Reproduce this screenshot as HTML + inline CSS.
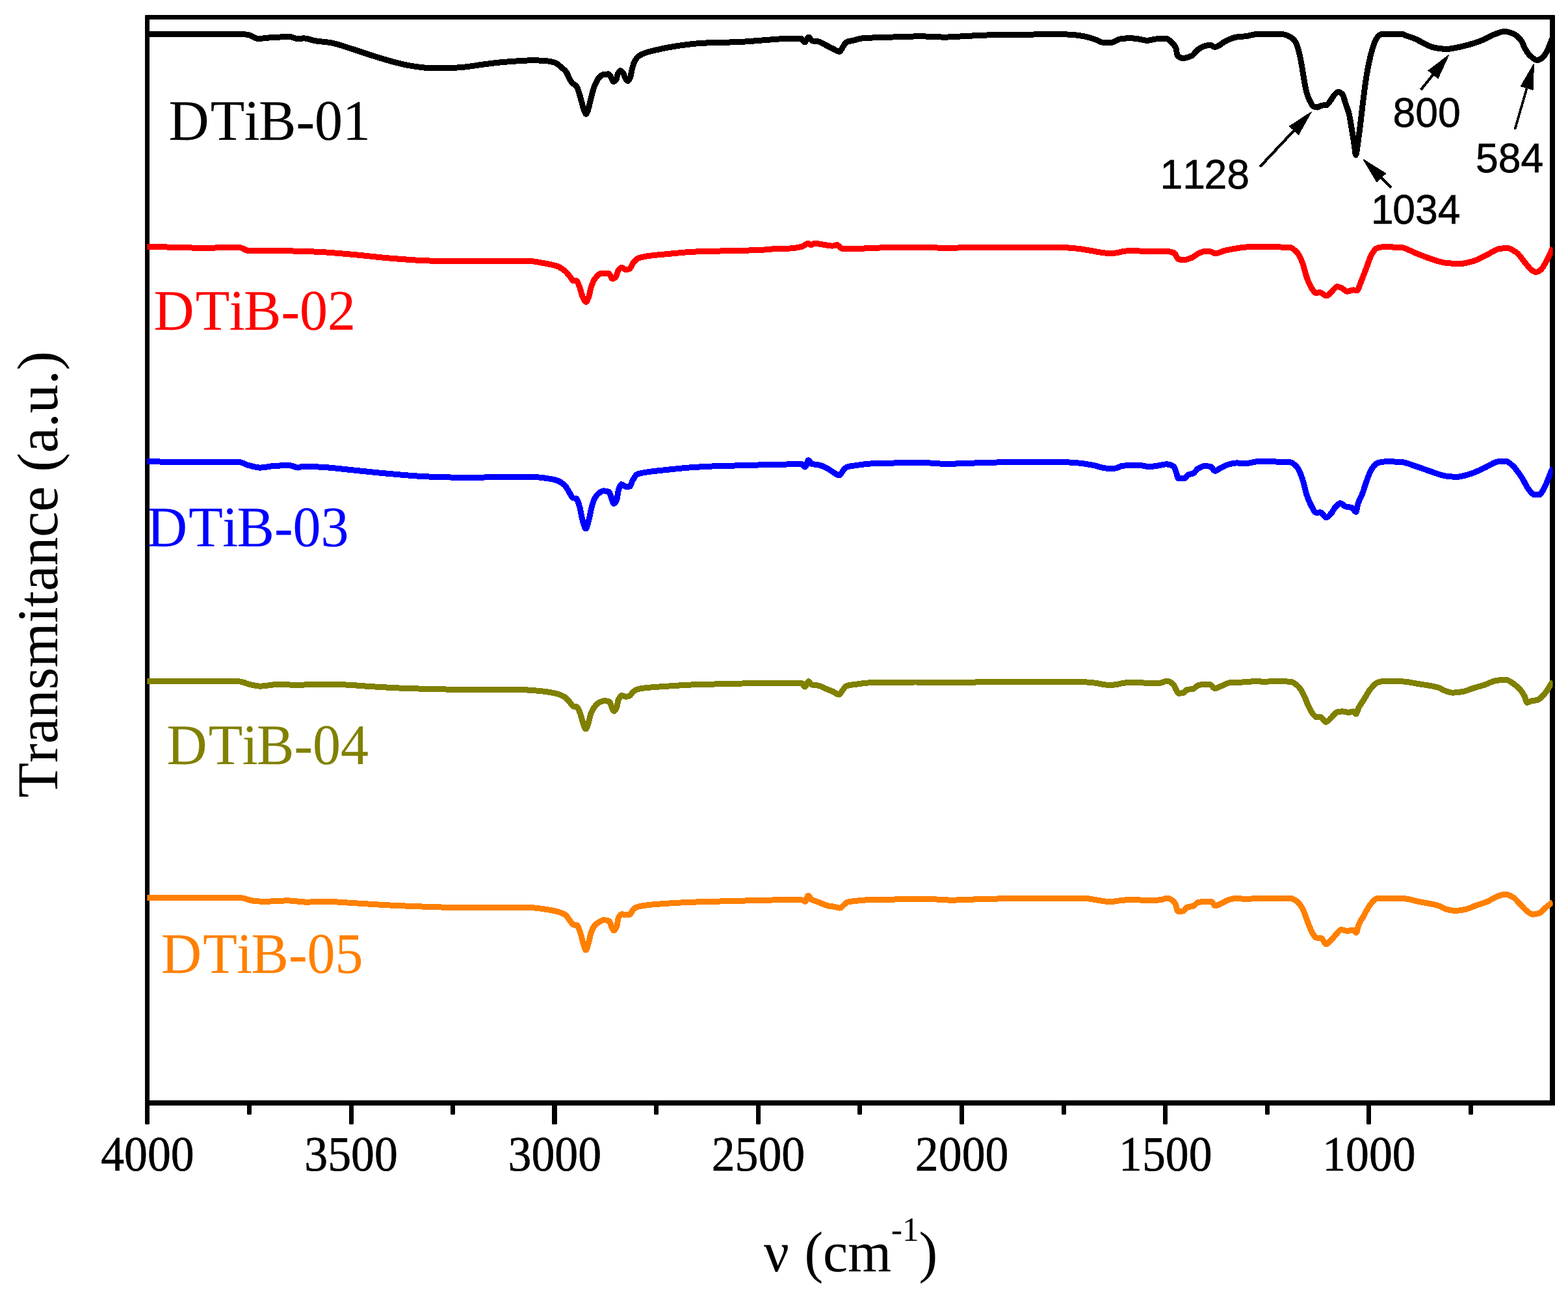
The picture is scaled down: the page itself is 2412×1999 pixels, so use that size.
<!DOCTYPE html>
<html lang="en"><head><meta charset="utf-8"><title>FTIR spectra DTiB-01 to DTiB-05</title>
<style>html,body{margin:0;padding:0;background:#fff;}body{width:2412px;height:1999px;overflow:hidden;}svg{display:block;}text{font-kerning:none;font-variant-ligatures:none;text-rendering:geometricPrecision;}</style></head><body>
<svg role="img" aria-label="FTIR transmittance spectra of DTiB-01, DTiB-02, DTiB-03, DTiB-04 and DTiB-05" width="2412" height="1999" viewBox="0 0 2412 1999">
<rect x="0" y="0" width="2412" height="1999" fill="#fff"/>
<g id="series-labels">
<text transform="translate(259.50 215.40) scale(1 1.025)" font-family="'Liberation Serif','DejaVu Serif',serif" font-size="86" fill="#000000" stroke="#000000" stroke-width="0.1" text-anchor="start" dx="0 2.2 -0.7 -1.5">DTiB-01</text>
<text transform="translate(236.50 506.50) scale(1 1.025)" font-family="'Liberation Serif','DejaVu Serif',serif" font-size="86" fill="#ff0000" stroke="#ff0000" stroke-width="0.1" text-anchor="start" dx="0 2.2 -0.7 -1.5">DTiB-02</text>
<text transform="translate(226.00 840.30) scale(1 1.025)" font-family="'Liberation Serif','DejaVu Serif',serif" font-size="86" fill="#0000ff" stroke="#0000ff" stroke-width="0.1" text-anchor="start" dx="0 2.2 -0.7 -1.5">DTiB-03</text>
<text transform="translate(256.50 1174.50) scale(1 1.025)" font-family="'Liberation Serif','DejaVu Serif',serif" font-size="86" fill="#808000" stroke="#808000" stroke-width="0.1" text-anchor="start" dx="0 2.2 -0.7 -1.5">DTiB-04</text>
<text transform="translate(248.00 1496.00) scale(1 1.025)" font-family="'Liberation Serif','DejaVu Serif',serif" font-size="86" fill="#ff8000" stroke="#ff8000" stroke-width="0.1" text-anchor="start" dx="0 2.2 -0.7 -1.5">DTiB-05</text>
</g>
<path id="frame" fill="#000" fill-rule="evenodd" d="M224 23H2391Q2392 23 2392 24V1699Q2392 1700 2391 1700H224Q223 1700 223 1699V24Q223 23 224 23ZM230 30V1692H2384V30Z"/>
<g id="ticks" fill="#000">
<path d="M223 1696V1728l1 1h5l1 -1V1696Z"/>
<path d="M537 1696V1728l1 1h5l1 -1V1696Z"/>
<path d="M849 1696V1728l1 1h6l1 -1V1696Z"/>
<path d="M1163 1696V1728l1 1h5l1 -1V1696Z"/>
<path d="M1476 1696V1728l1 1h5l1 -1V1696Z"/>
<path d="M1789 1696V1728l1 1h5l1 -1V1696Z"/>
<path d="M2102 1696V1728l1 1h5l1 -1V1696Z"/>
<path d="M380 1696V1713l1 1h5l1 -1V1696Z"/>
<path d="M693 1696V1713l1 1h5l1 -1V1696Z"/>
<path d="M1006 1696V1713l1 1h5l1 -1V1696Z"/>
<path d="M1319 1696V1713l1 1h5l1 -1V1696Z"/>
<path d="M1633 1696V1713l1 1h5l1 -1V1696Z"/>
<path d="M1946 1696V1713l1 1h5l1 -1V1696Z"/>
<path d="M2259 1696V1713l1 1h5l1 -1V1696Z"/>
</g>
<g id="tick-labels">
<text transform="translate(226.95 1799.70) scale(1 1.06)" font-family="'Liberation Serif','DejaVu Serif',serif" font-size="71.8" fill="#000" stroke="#000" stroke-width="0.6" text-anchor="middle">4000</text>
<text transform="translate(540.12 1799.70) scale(1 1.06)" font-family="'Liberation Serif','DejaVu Serif',serif" font-size="71.8" fill="#000" stroke="#000" stroke-width="0.6" text-anchor="middle">3500</text>
<text transform="translate(853.29 1799.70) scale(1 1.06)" font-family="'Liberation Serif','DejaVu Serif',serif" font-size="71.8" fill="#000" stroke="#000" stroke-width="0.6" text-anchor="middle">3000</text>
<text transform="translate(1166.46 1799.70) scale(1 1.06)" font-family="'Liberation Serif','DejaVu Serif',serif" font-size="71.8" fill="#000" stroke="#000" stroke-width="0.6" text-anchor="middle">2500</text>
<text transform="translate(1479.63 1799.70) scale(1 1.06)" font-family="'Liberation Serif','DejaVu Serif',serif" font-size="71.8" fill="#000" stroke="#000" stroke-width="0.6" text-anchor="middle">2000</text>
<text transform="translate(1792.80 1799.70) scale(1 1.06)" font-family="'Liberation Serif','DejaVu Serif',serif" font-size="71.8" fill="#000" stroke="#000" stroke-width="0.6" text-anchor="middle">1500</text>
<text transform="translate(2105.97 1799.70) scale(1 1.06)" font-family="'Liberation Serif','DejaVu Serif',serif" font-size="71.8" fill="#000" stroke="#000" stroke-width="0.6" text-anchor="middle">1000</text>
</g>
<g id="axis-titles">
<text transform="translate(1174.90 1954.90) scale(1 1.025)" font-family="'Liberation Serif','DejaVu Serif',serif" font-size="86" fill="#000" stroke="#000" stroke-width="0.1" text-anchor="start" dx="0 2.1" aria-label="ν (cm-1)">ν (cm<tspan font-size="51" dy="-45.5">-1</tspan><tspan dy="45.5">)</tspan></text>
<text transform="translate(88.30 1226.50) rotate(-90) scale(1 1.01)" font-family="'Liberation Serif','DejaVu Serif',serif" font-size="88" fill="#000" stroke="#000" stroke-width="0.1" text-anchor="start">Transmitance (a.u.)</text>
</g>
<clipPath id="plot-clip"><rect x="226.3" y="30" width="2162.3" height="1662"/></clipPath>
<g id="curves" clip-path="url(#plot-clip)" shape-rendering="crispEdges" fill="none" stroke-width="9" stroke-linejoin="round" stroke-linecap="butt">
<path id="curve-black" stroke="#000000" d="M226.5 52.6C236.7 52.6 246.8 52.6 257.0 52.6C276.0 52.6 295.0 52.0 314.0 52.0C329.3 52.0 344.7 52.1 360.0 52.3C366.7 52.4 373.3 52.6 380.0 53.1C385.7 53.5 391.3 59.4 397.0 59.4C403.7 59.4 410.3 58.1 417.0 57.7C426.7 57.2 436.3 56.6 446.0 56.6C450.2 56.6 454.4 60.0 458.6 60.0C461.4 60.0 464.2 58.9 467.0 58.9C473.2 58.9 479.5 61.9 485.7 62.9C493.3 64.1 501.0 64.4 508.6 65.7C520.0 67.6 531.5 72.2 542.9 75.7C552.4 78.6 561.9 82.1 571.4 85.1C580.9 88.1 590.5 91.1 600.0 93.7C609.5 96.3 619.1 99.0 628.6 100.6C638.1 102.2 647.5 104.0 657.0 104.3C666.6 104.6 676.1 104.9 685.7 104.9C695.1 104.9 704.6 103.9 714.0 103.1C723.6 102.3 733.3 100.3 742.9 99.1C752.4 97.9 761.9 96.6 771.4 95.7C780.6 94.9 789.8 94.2 799.0 93.7C805.4 93.3 811.7 92.8 818.1 92.8C824.4 92.8 830.8 93.0 837.1 93.3C842.8 93.6 848.6 94.7 854.3 96.6C857.5 97.6 860.6 101.2 863.8 103.8C866.0 105.7 868.3 107.1 870.5 109.9C872.1 111.9 873.6 116.1 875.2 119.0C876.8 122.0 878.4 125.9 880.0 127.6C882.2 129.9 884.5 129.8 886.7 132.4C888.0 133.9 889.2 138.2 890.5 141.9C891.8 145.6 893.0 150.8 894.3 155.2C895.6 159.6 896.8 165.4 898.1 168.6C899.2 171.5 900.4 175.3 901.5 175.3C902.6 175.3 903.7 171.6 904.8 168.6C905.7 166.0 906.7 160.9 907.6 157.1C908.9 152.0 910.1 146.2 911.4 141.9C912.7 137.6 913.9 133.4 915.2 130.5C917.1 126.1 919.1 122.2 921.0 120.0C923.2 117.5 925.4 115.1 927.6 114.7C930.5 114.2 933.3 113.9 936.2 113.9C937.5 113.9 938.7 117.1 940.0 119.0C941.3 120.9 942.5 125.7 943.8 125.7C945.1 125.7 946.3 124.5 947.6 122.9C948.6 121.7 949.5 115.1 950.5 113.3C951.8 111.0 953.0 108.6 954.3 108.6C955.9 108.6 957.4 111.1 959.0 113.3C960.3 115.1 961.6 120.3 962.9 121.9C963.8 123.1 964.8 124.4 965.7 124.4C967.0 124.4 968.2 121.8 969.5 119.0C970.5 116.9 971.4 109.2 972.4 105.7C973.7 101.1 974.9 96.7 976.2 94.3C978.1 90.7 980.0 88.2 981.9 86.7C985.7 83.8 989.5 82.3 993.3 81.0C998.4 79.3 1003.5 78.3 1008.6 77.1C1014.9 75.6 1021.3 74.2 1027.6 73.0C1034.0 71.8 1040.3 70.8 1046.7 69.9C1056.2 68.6 1065.7 67.3 1075.2 66.7C1084.7 66.0 1094.3 65.5 1103.8 65.3C1113.3 65.1 1122.9 65.1 1132.4 64.8C1141.9 64.5 1151.5 63.6 1161.0 62.9C1167.0 62.5 1173.0 61.9 1179.0 61.5C1188.5 60.8 1198.1 59.7 1207.6 59.6C1215.9 59.5 1224.1 59.4 1232.4 59.4C1234.3 59.4 1236.2 64.8 1238.1 64.8C1240.0 64.8 1241.9 57.1 1243.8 57.1C1245.7 57.1 1247.6 62.5 1249.5 62.9C1252.7 63.5 1255.8 63.3 1259.0 63.8C1262.8 64.4 1266.7 67.6 1270.5 69.5C1274.3 71.4 1278.1 73.4 1281.9 75.2C1285.1 76.7 1288.2 79.4 1291.4 79.4C1293.3 79.4 1295.2 74.0 1297.1 71.4C1298.7 69.2 1300.3 65.5 1301.9 64.8C1305.4 63.2 1308.9 63.1 1312.4 62.3C1316.8 61.2 1321.3 59.4 1325.7 59.0C1334.0 58.2 1342.2 58.0 1350.5 57.7C1363.2 57.2 1375.9 57.0 1388.6 56.6C1397.5 56.3 1406.3 55.8 1415.2 55.8C1427.9 55.8 1440.6 57.1 1453.3 57.1C1463.5 57.1 1473.6 56.1 1483.8 55.6C1496.5 55.0 1509.2 54.2 1521.9 53.9C1534.6 53.6 1547.3 53.5 1560.0 53.3C1562.9 53.2 1565.7 53.1 1568.6 53.1C1590.8 52.9 1613.0 52.8 1635.2 52.8C1641.6 52.8 1647.9 53.4 1654.3 53.9C1660.6 54.4 1667.0 55.7 1673.3 57.1C1677.8 58.1 1682.2 59.9 1686.7 61.5C1689.9 62.6 1693.0 65.3 1696.2 65.3C1700.6 65.3 1705.1 65.3 1709.5 65.3C1714.0 65.3 1718.4 60.6 1722.9 60.0C1728.0 59.3 1733.0 58.7 1738.1 58.7C1742.5 58.7 1747.0 59.4 1751.4 60.0C1755.9 60.6 1760.3 62.3 1764.8 62.3C1769.2 62.3 1773.7 60.4 1778.1 60.0C1783.2 59.5 1788.2 59.0 1793.3 59.0C1796.5 59.0 1799.7 62.7 1802.9 65.7C1804.8 67.5 1806.7 69.2 1808.6 73.3C1809.5 75.3 1810.5 84.8 1811.4 85.7C1814.3 88.4 1817.1 89.5 1820.0 89.5C1824.4 89.5 1828.9 87.7 1833.3 85.7C1836.5 84.2 1839.7 78.5 1842.9 76.2C1846.1 74.0 1849.2 71.9 1852.4 71.0C1855.6 70.1 1858.7 69.1 1861.9 69.1C1864.1 69.1 1866.4 72.4 1868.6 72.4C1870.8 72.4 1873.0 71.0 1875.2 69.9C1878.4 68.4 1881.6 65.0 1884.8 63.4C1890.5 60.6 1896.2 58.0 1901.9 57.1C1907.0 56.3 1912.0 56.3 1917.1 55.6C1921.9 55.0 1926.7 52.8 1931.5 52.8C1945.4 52.8 1959.3 52.8 1973.2 52.8C1976.5 52.8 1979.9 54.4 1983.2 55.9C1986.1 57.2 1988.9 59.4 1991.8 63.1C1993.7 65.6 1995.7 71.1 1997.6 77.5C1999.0 82.2 2000.5 90.1 2001.9 97.6C2003.3 105.1 2004.8 115.4 2006.2 123.4C2007.4 130.1 2008.6 137.9 2009.8 142.1C2011.5 148.0 2013.1 151.9 2014.8 155.1C2016.7 158.8 2018.7 162.9 2020.6 163.7C2022.5 164.5 2024.4 165.1 2026.3 165.1C2028.7 165.1 2031.1 162.6 2033.5 162.2C2035.9 161.8 2038.3 161.9 2040.7 161.5C2042.6 161.1 2044.5 157.5 2046.4 155.1C2048.3 152.6 2050.3 148.4 2052.2 146.4C2054.3 144.2 2056.5 141.4 2058.6 141.4C2060.8 141.4 2062.9 142.9 2065.1 145.0C2066.5 146.4 2068.0 153.6 2069.4 157.9C2071.3 163.7 2073.3 167.5 2075.2 175.2C2076.6 180.9 2078.1 191.1 2079.5 199.6C2080.7 206.5 2081.8 213.6 2083.0 221.1C2083.9 226.6 2084.7 238.4 2085.6 238.4C2086.6 238.4 2087.6 227.6 2088.6 221.1C2089.9 212.9 2091.1 202.4 2092.4 192.4C2093.8 181.0 2095.3 168.0 2096.7 156.5C2098.1 145.0 2099.6 132.8 2101.0 123.4C2102.4 114.0 2103.9 106.0 2105.3 99.0C2106.8 91.9 2108.2 85.5 2109.7 80.3C2111.6 73.5 2113.5 66.9 2115.4 63.1C2117.3 59.3 2119.2 55.7 2121.1 54.5C2123.0 53.3 2125.0 52.3 2126.9 52.3C2136.9 52.3 2147.0 52.3 2157.0 52.3C2158.7 52.3 2160.3 53.8 2162.0 54.5C2166.8 56.4 2171.6 57.5 2176.4 59.5C2181.2 61.5 2185.9 64.5 2190.7 66.7C2195.5 68.9 2200.3 72.1 2205.1 73.0C2211.8 74.3 2218.5 75.4 2225.2 75.4C2232.9 75.4 2240.5 73.2 2248.2 71.6C2257.8 69.6 2267.3 66.6 2276.9 63.1C2284.1 60.5 2291.3 55.6 2298.5 53.0C2303.8 51.1 2309.0 48.4 2314.3 48.4C2318.6 48.4 2322.9 49.9 2327.2 51.6C2331.6 53.3 2336.1 57.3 2340.5 63.1C2342.3 65.4 2344.0 71.6 2345.8 74.6C2348.5 79.3 2351.3 83.4 2354.0 85.8C2357.6 89.0 2361.2 92.6 2364.8 92.6C2367.5 92.6 2370.3 90.6 2373.0 88.5C2375.4 86.7 2377.8 82.0 2380.2 77.5C2382.0 74.1 2383.9 68.9 2385.7 64.5C2386.7 62.2 2387.6 59.8 2388.6 57.5"/>
<path id="curve-red" stroke="#ff0000" d="M226.3 379.4C246.1 379.8 265.9 380.1 285.7 380.6C295.2 380.9 304.8 381.7 314.3 381.7C323.8 381.7 333.4 380.6 342.9 380.6C351.5 380.6 360.0 380.6 368.6 380.6C373.4 380.6 378.1 385.7 382.9 385.7C398.1 385.7 413.4 385.7 428.6 385.7C447.6 385.7 466.7 386.4 485.7 387.1C504.8 387.8 523.8 389.8 542.9 391.4C561.9 393.0 581.0 395.6 600.0 397.1C619.0 398.6 638.1 400.3 657.1 400.9C676.2 401.5 695.2 402.0 714.3 402.0C733.3 402.0 752.4 401.4 771.4 401.4C785.7 401.4 800.0 401.4 814.3 401.5C821.9 401.5 829.5 403.5 837.1 404.8C843.5 405.9 849.8 406.9 856.2 409.0C860.6 410.5 865.1 413.5 869.5 417.1C872.0 419.2 874.6 422.7 877.1 425.7C878.7 427.6 880.3 431.8 881.9 431.8C883.5 431.8 885.1 431.8 886.7 431.8C888.3 431.8 889.8 437.2 891.4 441.0C893.0 444.9 894.6 452.9 896.2 456.2C898.0 459.8 899.7 464.2 901.5 464.2C902.9 464.2 904.3 459.8 905.7 456.2C907.0 452.9 908.2 444.6 909.5 441.0C911.4 435.5 913.3 431.0 915.2 428.6C918.4 424.5 921.6 420.4 924.8 420.4C928.6 420.4 932.4 420.4 936.2 420.4C938.1 420.4 940.0 428.6 941.9 428.6C943.5 428.6 945.1 427.8 946.7 426.7C948.3 425.6 949.8 417.1 951.4 415.2C953.0 413.3 954.6 411.4 956.2 411.4C958.4 411.4 960.7 414.9 962.9 414.9C964.8 414.9 966.7 414.2 968.6 413.3C970.5 412.4 972.4 406.0 974.3 403.8C976.8 400.8 979.4 398.1 981.9 397.1C986.3 395.3 990.8 394.6 995.2 393.9C1006.0 392.2 1016.8 391.5 1027.6 390.5C1040.3 389.3 1053.0 387.8 1065.7 387.2C1078.4 386.6 1091.1 386.4 1103.8 386.1C1116.5 385.8 1129.2 385.6 1141.9 385.3C1154.6 385.0 1167.3 384.6 1180.0 383.8C1182.9 383.6 1185.7 383.1 1188.6 382.9C1198.1 382.4 1207.6 382.5 1217.1 381.9C1222.8 381.5 1228.6 380.6 1234.3 379.0C1237.2 378.2 1240.0 374.3 1242.9 374.3C1244.5 374.3 1246.0 376.6 1247.6 376.6C1249.5 376.6 1251.4 374.3 1253.3 374.3C1257.8 374.3 1262.2 375.6 1266.7 376.2C1271.1 376.8 1275.6 378.1 1280.0 378.1C1282.5 378.1 1285.1 376.6 1287.6 376.6C1290.1 376.6 1292.7 382.1 1295.2 382.3C1300.9 382.7 1306.7 382.9 1312.4 382.9C1318.7 382.9 1325.1 382.2 1331.4 381.9C1344.1 381.4 1356.8 380.7 1369.5 380.6C1391.7 380.5 1414.0 380.4 1436.2 380.4C1439.4 380.4 1442.5 381.3 1445.7 381.3C1455.2 381.3 1464.8 381.2 1474.3 381.0C1477.5 380.9 1480.6 380.0 1483.8 380.0C1509.2 380.0 1534.6 380.1 1560.0 380.2C1583.8 380.3 1607.6 380.3 1631.4 380.4C1640.3 380.5 1649.2 381.4 1658.1 382.3C1666.4 383.1 1674.6 385.0 1682.9 386.3C1689.2 387.3 1695.6 389.1 1701.9 389.1C1706.3 389.1 1710.8 389.1 1715.2 389.1C1719.0 389.1 1722.9 387.2 1726.7 386.7C1731.8 386.0 1736.8 385.3 1741.9 385.3C1750.2 385.3 1758.4 387.0 1766.7 387.0C1770.5 387.0 1774.3 386.7 1778.1 386.7C1784.4 386.7 1790.8 386.7 1797.1 386.7C1800.3 386.7 1803.5 387.8 1806.7 389.5C1808.6 390.5 1810.5 397.3 1812.4 398.1C1814.9 399.2 1817.5 400.0 1820.0 400.0C1824.4 400.0 1828.9 397.9 1833.3 396.2C1837.0 394.8 1840.6 391.0 1844.3 389.5C1847.6 388.1 1851.0 386.3 1854.3 386.3C1856.8 386.3 1859.4 386.5 1861.9 386.7C1864.4 386.9 1867.0 389.9 1869.5 389.9C1874.0 389.9 1878.4 386.8 1882.9 385.7C1889.2 384.1 1895.6 382.9 1901.9 381.9C1907.0 381.1 1912.0 380.1 1917.1 380.0C1925.9 379.9 1934.6 379.8 1943.4 379.8C1956.7 379.8 1970.0 379.9 1983.3 380.3C1987.2 380.4 1991.1 384.1 1995.0 388.0C1997.7 390.7 2000.5 396.7 2003.2 403.3C2005.5 408.9 2007.9 420.6 2010.2 426.7C2012.9 433.9 2015.7 440.5 2018.4 444.3C2020.4 447.1 2022.3 450.6 2024.3 450.6C2026.2 450.6 2028.2 449.7 2030.1 449.7C2033.6 449.7 2037.2 454.8 2040.7 454.8C2043.4 454.8 2046.2 450.1 2048.9 447.8C2051.6 445.5 2054.4 440.7 2057.1 440.7C2059.4 440.7 2061.8 442.1 2064.1 443.1C2066.8 444.3 2069.6 448.2 2072.3 448.2C2075.4 448.2 2078.6 445.9 2081.7 445.9C2083.6 445.9 2085.6 446.6 2087.5 446.6C2089.5 446.6 2091.4 438.3 2093.4 433.7C2096.1 427.3 2098.9 419.6 2101.6 412.6C2104.3 405.6 2107.1 396.2 2109.8 391.5C2112.1 387.4 2114.5 383.2 2116.8 382.2C2119.9 380.8 2123.1 379.8 2126.2 379.8C2135.6 379.8 2144.9 380.0 2154.3 380.3C2162.1 380.6 2169.9 386.2 2177.7 389.2C2185.5 392.2 2193.4 395.6 2201.2 398.1C2209.0 400.6 2216.8 403.7 2224.6 404.4C2231.6 405.1 2238.7 405.6 2245.7 405.6C2252.7 405.6 2259.8 403.4 2266.8 401.4C2273.8 399.4 2280.9 394.8 2287.9 391.5C2294.1 388.6 2300.4 383.5 2306.6 382.6C2310.5 382.0 2314.4 381.5 2318.3 381.5C2323.0 381.5 2327.7 384.9 2332.4 388.0C2337.1 391.1 2341.7 399.0 2346.4 404.4C2349.5 408.0 2352.7 412.9 2355.8 415.0C2358.1 416.6 2360.5 418.5 2362.8 418.5C2365.2 418.5 2367.5 416.7 2369.9 415.0C2373.0 412.7 2376.1 406.4 2379.2 400.9C2382.3 395.4 2385.5 387.6 2388.6 381.0"/>
<path id="curve-blue" stroke="#0000ff" d="M226.3 709.4C246.1 709.9 265.9 710.9 285.7 710.9C312.4 710.9 339.0 710.0 365.7 710.0C371.4 710.0 377.2 714.3 382.9 715.7C388.6 717.1 394.3 719.1 400.0 719.1C407.6 719.1 415.3 716.6 422.9 716.3C430.5 716.0 438.1 715.7 445.7 715.7C450.0 715.7 454.3 719.1 458.6 719.1C461.0 719.1 463.3 717.1 465.7 717.1C477.1 717.1 488.6 717.9 500.0 718.6C514.3 719.5 528.6 721.5 542.9 722.9C561.9 724.8 581.0 727.0 600.0 728.6C619.0 730.2 638.1 732.2 657.1 732.9C676.2 733.6 695.2 734.3 714.3 734.3C733.3 734.3 752.4 733.8 771.4 733.7C788.2 733.6 805.1 733.6 821.9 733.6C828.9 733.6 835.9 734.8 842.9 735.8C847.3 736.4 851.8 737.2 856.2 738.6C860.3 739.9 864.5 742.5 868.6 746.2C871.4 748.8 874.3 755.1 877.1 759.5C878.4 761.5 879.7 765.1 881.0 765.6C882.9 766.3 884.8 766.0 886.7 766.8C888.3 767.4 889.8 773.6 891.4 778.6C893.0 783.7 894.6 794.6 896.2 800.0C897.8 805.4 899.4 813.0 901.0 813.0C902.6 813.0 904.1 805.5 905.7 800.0C907.0 795.6 908.2 787.2 909.5 782.4C911.1 776.3 912.7 770.1 914.3 767.1C916.5 762.9 918.8 760.2 921.0 758.6C923.5 756.8 926.1 754.8 928.6 754.8C931.4 754.8 934.3 755.4 937.1 756.7C938.4 757.3 939.7 763.9 941.0 767.1C942.1 769.7 943.1 774.4 944.2 774.4C945.7 774.4 947.1 772.1 948.6 769.0C949.5 767.0 950.5 756.5 951.4 753.8C953.0 749.1 954.6 744.7 956.2 744.7C958.4 744.7 960.7 748.5 962.9 748.5C964.8 748.5 966.7 748.4 968.6 748.1C970.2 747.9 971.7 741.2 973.3 738.6C975.5 734.9 977.8 730.4 980.0 729.4C984.4 727.5 988.9 727.0 993.3 726.3C1004.7 724.4 1016.2 723.4 1027.6 722.2C1040.3 720.9 1053.0 719.4 1065.7 718.6C1078.4 717.8 1091.1 717.1 1103.8 716.7C1116.5 716.3 1129.2 716.0 1141.9 715.7C1154.6 715.4 1167.3 714.9 1180.0 714.6C1186.0 714.5 1192.1 714.3 1198.1 714.2C1209.8 714.0 1221.6 713.8 1233.3 713.8C1235.0 713.8 1236.8 718.0 1238.5 718.0C1240.3 718.0 1242.0 707.7 1243.8 707.7C1245.4 707.7 1247.0 713.0 1248.6 713.4C1252.1 714.3 1255.5 714.1 1259.0 714.8C1262.8 715.6 1266.7 717.3 1270.5 719.1C1274.3 720.9 1278.1 724.1 1281.9 726.2C1285.1 728.0 1288.2 731.0 1291.4 731.0C1293.3 731.0 1295.2 725.4 1297.1 723.3C1298.7 721.5 1300.3 719.2 1301.9 718.6C1306.7 716.8 1311.4 716.4 1316.2 715.7C1324.5 714.5 1332.7 713.2 1341.0 712.9C1356.9 712.3 1372.7 711.9 1388.6 711.9C1401.3 711.9 1414.0 711.9 1426.7 711.9C1436.2 711.9 1445.7 713.4 1455.2 713.4C1464.7 713.4 1474.3 712.8 1483.8 712.5C1496.5 712.1 1509.2 711.6 1521.9 711.3C1534.6 711.0 1547.3 710.5 1560.0 710.5C1583.8 710.5 1607.6 710.5 1631.4 710.6C1640.3 710.6 1649.2 711.2 1658.1 711.9C1666.4 712.5 1674.6 714.2 1682.9 715.7C1689.2 716.9 1695.6 720.1 1701.9 720.1C1706.3 720.1 1710.8 720.1 1715.2 720.1C1719.0 720.1 1722.9 716.7 1726.7 716.3C1731.8 715.7 1736.8 715.3 1741.9 715.3C1746.3 715.3 1750.8 715.5 1755.2 715.7C1759.0 715.9 1762.9 717.6 1766.7 717.6C1771.1 717.6 1775.6 716.9 1780.0 716.3C1784.8 715.7 1789.5 713.8 1794.3 713.8C1798.1 713.8 1801.9 715.0 1805.7 717.6C1807.0 718.5 1808.2 723.7 1809.5 727.1C1810.5 729.7 1811.4 735.7 1812.4 735.7C1815.6 735.7 1818.7 735.7 1821.9 735.7C1823.8 735.7 1825.7 730.8 1827.6 730.0C1830.1 729.0 1832.7 729.1 1835.2 728.1C1837.8 727.1 1840.3 722.0 1842.9 720.5C1846.1 718.7 1849.2 716.7 1852.4 716.7C1855.6 716.7 1858.7 716.9 1861.9 717.2C1864.3 717.5 1866.7 724.3 1869.1 724.3C1871.8 724.3 1874.4 721.2 1877.1 719.9C1882.2 717.4 1887.3 714.5 1892.4 713.4C1895.6 712.7 1898.7 711.9 1901.9 711.9C1906.3 711.9 1910.8 712.9 1915.2 712.9C1921.5 712.9 1927.8 709.8 1934.1 709.8C1950.5 709.8 1966.9 709.9 1983.3 710.5C1987.2 710.6 1991.1 714.0 1995.0 718.0C1997.7 720.8 2000.5 728.1 2003.2 735.6C2005.5 742.0 2007.9 754.8 2010.2 761.4C2012.9 769.1 2015.7 775.4 2018.4 780.1C2020.4 783.5 2022.3 788.3 2024.3 788.3C2026.6 788.3 2029.0 787.9 2031.3 787.9C2034.2 787.9 2037.1 795.8 2040.0 795.8C2042.6 795.8 2045.1 792.2 2047.7 789.5C2050.0 787.0 2052.4 781.3 2054.7 779.0C2057.1 776.7 2059.4 773.8 2061.8 773.8C2064.5 773.8 2067.3 778.3 2070.0 779.0C2073.1 779.8 2076.2 779.7 2079.3 780.6C2081.5 781.3 2083.7 787.2 2085.9 787.2C2086.8 787.2 2087.8 778.3 2088.7 775.4C2091.0 768.1 2093.4 765.1 2095.7 759.0C2098.1 752.8 2100.4 744.1 2102.8 737.9C2105.1 731.8 2107.5 724.9 2109.8 721.5C2112.9 716.9 2116.1 712.6 2119.2 711.7C2123.1 710.6 2127.0 709.8 2130.9 709.8C2138.7 709.8 2146.5 710.0 2154.3 710.3C2162.1 710.6 2169.9 714.5 2177.7 716.9C2185.5 719.3 2193.4 722.6 2201.2 725.1C2209.0 727.6 2216.8 731.2 2224.6 732.1C2230.1 732.7 2235.5 733.3 2241.0 733.3C2248.0 733.3 2255.1 730.7 2262.1 728.6C2269.9 726.3 2277.7 722.0 2285.5 718.5C2291.7 715.7 2298.0 710.4 2304.2 709.8C2308.1 709.4 2312.1 709.1 2316.0 709.1C2319.9 709.1 2323.8 713.5 2327.7 716.9C2332.4 721.0 2337.0 728.5 2341.7 735.6C2344.8 740.4 2348.0 748.2 2351.1 752.0C2354.2 755.8 2357.4 760.9 2360.5 760.9C2362.8 760.9 2365.2 760.9 2367.5 760.9C2370.2 760.9 2373.0 754.4 2375.7 749.7C2378.0 745.6 2380.4 738.8 2382.7 733.3C2384.7 728.6 2386.6 723.9 2388.6 719.2"/>
<path id="curve-olive" stroke="#808000" d="M226.3 1048.0C265.2 1047.9 304.0 1047.7 342.9 1047.7C351.5 1047.7 360.0 1047.8 368.6 1048.0C374.3 1048.1 380.0 1051.8 385.7 1052.9C390.5 1053.8 395.2 1055.1 400.0 1055.1C409.5 1055.1 419.1 1052.3 428.6 1052.3C438.1 1052.3 447.6 1053.4 457.1 1053.4C466.6 1053.4 476.2 1052.3 485.7 1052.3C500.0 1052.3 514.3 1052.6 528.6 1052.9C542.9 1053.2 557.1 1054.9 571.4 1055.7C590.5 1056.8 609.5 1058.0 628.6 1058.6C647.6 1059.2 666.7 1059.6 685.7 1060.0C704.8 1060.4 723.8 1060.8 742.9 1060.9C755.3 1061.0 767.6 1061.0 780.0 1061.0C788.9 1061.0 797.8 1060.9 806.7 1060.9C815.6 1060.9 824.4 1061.9 833.3 1062.8C840.9 1063.6 848.6 1064.7 856.2 1066.6C860.6 1067.7 865.1 1069.6 869.5 1072.5C872.0 1074.1 874.6 1077.7 877.1 1080.5C878.7 1082.3 880.3 1085.7 881.9 1086.2C883.8 1086.7 885.7 1086.5 887.6 1087.1C889.2 1087.6 890.8 1092.6 892.4 1096.7C893.8 1100.2 895.2 1107.2 896.6 1111.0C898.1 1115.0 899.5 1120.9 901.0 1120.9C902.4 1120.9 903.9 1115.0 905.3 1111.0C906.7 1107.0 908.1 1099.0 909.5 1095.7C911.4 1091.3 913.3 1088.4 915.2 1086.2C917.8 1083.2 920.3 1080.5 922.9 1079.5C925.4 1078.5 928.0 1077.6 930.5 1077.6C933.0 1077.6 935.6 1078.2 938.1 1079.5C939.4 1080.1 940.6 1088.0 941.9 1090.0C942.9 1091.6 943.8 1093.4 944.8 1093.4C946.1 1093.4 947.3 1090.9 948.6 1088.1C949.5 1086.1 950.5 1077.6 951.4 1075.7C953.0 1072.4 954.6 1069.6 956.2 1069.6C958.4 1069.6 960.7 1071.3 962.9 1071.3C964.8 1071.3 966.7 1070.7 968.6 1070.0C970.5 1069.3 972.4 1064.7 974.3 1063.3C976.8 1061.5 979.4 1060.1 981.9 1059.5C987.6 1058.2 993.3 1057.8 999.0 1057.2C1008.5 1056.3 1018.1 1055.7 1027.6 1055.1C1040.3 1054.3 1053.0 1053.4 1065.7 1052.9C1078.4 1052.4 1091.1 1052.2 1103.8 1051.9C1116.5 1051.6 1129.2 1051.3 1141.9 1051.0C1154.6 1050.7 1167.3 1050.5 1180.0 1050.3C1186.0 1050.2 1192.1 1050.0 1198.1 1050.0C1209.5 1050.0 1221.0 1050.0 1232.4 1050.0C1234.4 1050.0 1236.5 1056.1 1238.5 1056.1C1240.3 1056.1 1242.0 1047.7 1243.8 1047.7C1245.4 1047.7 1247.0 1052.5 1248.6 1052.9C1252.1 1053.8 1255.5 1053.5 1259.0 1054.2C1262.8 1054.9 1266.7 1057.5 1270.5 1059.1C1274.3 1060.7 1278.1 1062.0 1281.9 1063.7C1284.8 1065.0 1287.6 1068.1 1290.5 1068.1C1292.4 1068.1 1294.3 1063.6 1296.2 1061.4C1298.1 1059.2 1300.0 1055.4 1301.9 1054.8C1306.7 1053.2 1311.4 1053.0 1316.2 1052.3C1324.5 1051.2 1332.7 1049.8 1341.0 1049.6C1363.2 1049.2 1385.4 1049.0 1407.6 1049.0C1426.7 1049.0 1445.7 1049.4 1464.8 1049.4C1483.8 1049.4 1502.9 1048.9 1521.9 1048.7C1540.6 1048.5 1559.4 1048.1 1578.1 1048.1C1603.5 1048.1 1628.9 1048.1 1654.3 1048.1C1663.8 1048.1 1673.4 1049.1 1682.9 1050.0C1690.5 1050.7 1698.1 1053.4 1705.7 1053.4C1708.9 1053.4 1712.0 1053.1 1715.2 1052.9C1720.3 1052.5 1725.4 1050.3 1730.5 1050.0C1736.8 1049.6 1743.2 1049.4 1749.5 1049.4C1755.9 1049.4 1762.2 1050.6 1768.6 1050.6C1774.3 1050.6 1780.0 1050.4 1785.7 1050.0C1788.9 1049.8 1792.0 1047.1 1795.2 1047.1C1798.4 1047.1 1801.6 1049.4 1804.8 1052.3C1806.4 1053.7 1807.9 1059.0 1809.5 1061.4C1810.8 1063.3 1812.0 1066.2 1813.3 1066.2C1815.9 1066.2 1818.4 1065.8 1821.0 1065.2C1822.6 1064.8 1824.1 1060.8 1825.7 1060.5C1828.9 1059.8 1832.0 1060.1 1835.2 1059.5C1837.8 1059.0 1840.3 1054.5 1842.9 1053.8C1846.1 1053.0 1849.2 1052.3 1852.4 1052.3C1855.6 1052.3 1858.7 1052.5 1861.9 1052.9C1864.1 1053.2 1866.4 1058.6 1868.6 1058.6C1872.1 1058.6 1875.5 1056.1 1879.0 1054.8C1883.5 1053.1 1887.9 1049.9 1892.4 1049.6C1898.7 1049.2 1905.1 1049.3 1911.4 1049.0C1919.0 1048.7 1926.5 1047.5 1934.1 1047.5C1938.0 1047.5 1941.9 1048.7 1945.8 1048.7C1948.9 1048.7 1952.0 1047.5 1955.1 1047.5C1965.3 1047.5 1975.4 1047.7 1985.6 1048.2C1989.5 1048.4 1993.4 1052.1 1997.3 1055.7C2000.0 1058.3 2002.8 1063.4 2005.5 1068.6C2007.8 1073.0 2010.2 1080.2 2012.5 1085.0C2014.9 1089.8 2017.2 1095.1 2019.6 1097.9C2021.5 1100.2 2023.5 1103.0 2025.4 1103.0C2027.4 1103.0 2029.3 1102.5 2031.3 1102.5C2034.0 1102.5 2036.8 1110.3 2039.5 1110.3C2042.2 1110.3 2045.0 1106.1 2047.7 1103.7C2050.8 1101.0 2054.0 1095.4 2057.1 1094.8C2059.8 1094.3 2062.6 1093.9 2065.3 1093.9C2068.4 1093.9 2071.5 1095.5 2074.6 1095.5C2077.0 1095.5 2079.3 1093.9 2081.7 1093.9C2083.1 1093.9 2084.5 1097.9 2085.9 1097.9C2087.2 1097.9 2088.6 1091.1 2089.9 1088.5C2092.6 1083.2 2095.4 1080.0 2098.1 1075.6C2101.2 1070.6 2104.3 1064.1 2107.4 1060.4C2111.3 1055.7 2115.3 1050.7 2119.2 1049.4C2123.1 1048.1 2127.0 1047.0 2130.9 1047.0C2140.3 1047.0 2149.6 1047.4 2159.0 1048.0C2166.8 1048.5 2174.6 1050.4 2182.4 1051.7C2192.6 1053.4 2202.7 1054.3 2212.9 1057.3C2216.0 1058.2 2219.2 1060.9 2222.3 1062.0C2226.2 1063.4 2230.1 1065.1 2234.0 1065.1C2239.5 1065.1 2244.9 1064.3 2250.4 1063.4C2255.9 1062.5 2261.3 1059.7 2266.8 1058.0C2272.3 1056.3 2277.7 1055.1 2283.2 1053.3C2288.7 1051.5 2294.1 1048.0 2299.6 1047.0C2305.1 1046.0 2310.5 1045.1 2316.0 1045.1C2319.9 1045.1 2323.8 1048.5 2327.7 1051.0C2331.6 1053.5 2335.5 1056.9 2339.4 1061.5C2341.4 1063.8 2343.3 1066.9 2345.3 1070.9C2346.5 1073.3 2347.6 1080.3 2348.8 1080.3C2351.1 1080.3 2353.5 1078.6 2355.8 1078.0C2358.9 1077.3 2362.1 1077.2 2365.2 1076.3C2368.3 1075.4 2371.5 1071.9 2374.6 1068.6C2377.3 1065.7 2380.1 1061.1 2382.8 1056.9C2384.7 1054.0 2386.7 1050.6 2388.6 1047.5"/>
<path id="curve-orange" stroke="#ff8000" d="M226.3 1380.9C265.2 1380.8 304.0 1380.6 342.9 1380.6C352.4 1380.6 361.9 1380.7 371.4 1380.9C377.1 1381.0 382.9 1384.5 388.6 1385.1C394.3 1385.7 400.0 1386.3 405.7 1386.3C418.1 1386.3 430.5 1384.9 442.9 1384.9C452.4 1384.9 461.9 1387.1 471.4 1387.1C480.9 1387.1 490.5 1386.3 500.0 1386.3C514.3 1386.3 528.6 1387.8 542.9 1388.6C561.9 1389.7 581.0 1391.1 600.0 1392.0C619.0 1392.9 638.1 1393.7 657.1 1394.3C676.2 1394.9 695.2 1395.7 714.3 1395.7C736.2 1395.7 758.1 1395.6 780.0 1395.6C792.7 1395.6 805.4 1395.7 818.1 1395.8C825.7 1395.9 833.4 1397.4 841.0 1398.5C846.7 1399.4 852.4 1400.3 858.1 1401.9C861.9 1403.0 865.7 1404.2 869.5 1406.7C872.0 1408.4 874.6 1413.1 877.1 1416.2C878.7 1418.1 880.3 1421.4 881.9 1421.9C883.8 1422.5 885.7 1422.3 887.6 1422.9C889.2 1423.4 890.8 1428.9 892.4 1433.3C893.8 1437.1 895.2 1444.3 896.6 1448.6C898.2 1453.4 899.7 1461.0 901.3 1461.0C902.8 1461.0 904.2 1453.5 905.7 1448.6C907.0 1444.4 908.2 1436.7 909.5 1433.3C911.1 1429.0 912.7 1425.7 914.3 1423.8C916.5 1421.1 918.8 1419.4 921.0 1418.1C923.5 1416.6 926.1 1414.7 928.6 1414.7C931.4 1414.7 934.3 1415.2 937.1 1416.2C938.4 1416.7 939.7 1423.2 941.0 1425.7C942.1 1427.8 943.1 1431.0 944.2 1431.0C945.7 1431.0 947.1 1428.1 948.6 1424.8C949.5 1422.7 950.5 1413.3 951.4 1411.4C953.0 1408.2 954.6 1405.7 956.2 1405.7C958.4 1405.7 960.7 1407.0 962.9 1407.0C964.8 1407.0 966.7 1406.7 968.6 1406.3C970.5 1405.9 972.4 1399.7 974.3 1398.1C976.5 1396.3 978.8 1394.9 981.0 1394.3C987.0 1392.7 993.0 1392.1 999.0 1391.4C1008.5 1390.4 1018.1 1389.7 1027.6 1389.1C1040.3 1388.3 1053.0 1387.7 1065.7 1387.2C1078.4 1386.7 1091.1 1386.4 1103.8 1386.1C1116.5 1385.8 1129.2 1385.4 1141.9 1385.1C1154.6 1384.8 1167.3 1384.5 1180.0 1384.2C1186.0 1384.1 1192.1 1383.8 1198.1 1383.8C1209.8 1383.8 1221.6 1383.8 1233.3 1383.8C1235.0 1383.8 1236.8 1386.3 1238.5 1386.3C1240.1 1386.3 1241.8 1377.1 1243.4 1377.1C1245.1 1377.1 1246.9 1382.4 1248.6 1383.4C1252.1 1385.5 1255.5 1385.9 1259.0 1387.2C1264.1 1389.1 1269.2 1392.0 1274.3 1393.0C1277.5 1393.6 1280.6 1393.8 1283.8 1394.3C1286.7 1394.8 1289.5 1396.2 1292.4 1396.2C1294.3 1396.2 1296.2 1392.9 1298.1 1391.4C1300.0 1389.9 1301.9 1387.7 1303.8 1387.2C1309.8 1385.7 1315.9 1385.4 1321.9 1384.8C1328.3 1384.2 1334.6 1383.5 1341.0 1383.4C1360.0 1383.1 1379.1 1382.9 1398.1 1382.9C1410.8 1382.9 1423.5 1382.9 1436.2 1382.9C1445.7 1382.9 1455.3 1384.2 1464.8 1384.2C1471.1 1384.2 1477.5 1383.6 1483.8 1383.4C1496.5 1383.0 1509.2 1382.6 1521.9 1382.3C1534.6 1382.0 1547.3 1381.7 1560.0 1381.6C1575.6 1381.4 1591.1 1381.3 1606.7 1381.3C1627.6 1381.3 1648.6 1381.3 1669.5 1381.5C1675.9 1381.5 1682.2 1383.3 1688.6 1384.2C1694.9 1385.1 1701.3 1386.7 1707.6 1386.7C1712.7 1386.7 1717.8 1385.3 1722.9 1384.8C1728.6 1384.2 1734.3 1383.4 1740.0 1383.4C1748.3 1383.4 1756.5 1384.4 1764.8 1384.4C1771.8 1384.4 1778.7 1384.2 1785.7 1383.8C1788.9 1383.6 1792.0 1381.0 1795.2 1381.0C1798.4 1381.0 1801.6 1383.1 1804.8 1385.7C1806.2 1386.8 1807.6 1389.2 1809.0 1392.4C1809.8 1394.2 1810.6 1401.0 1811.4 1401.0C1814.3 1401.0 1817.1 1401.0 1820.0 1401.0C1821.9 1401.0 1823.8 1395.9 1825.7 1395.2C1828.9 1394.1 1832.0 1394.3 1835.2 1393.3C1837.8 1392.5 1840.3 1388.2 1842.9 1387.6C1846.1 1386.9 1849.2 1386.3 1852.4 1386.3C1856.2 1386.3 1860.0 1386.4 1863.8 1386.7C1865.6 1386.8 1867.3 1392.8 1869.1 1392.8C1871.8 1392.8 1874.4 1391.0 1877.1 1389.9C1880.9 1388.3 1884.8 1385.4 1888.6 1384.2C1892.4 1383.0 1896.2 1381.5 1900.0 1381.5C1905.7 1381.5 1911.4 1382.3 1917.1 1382.3C1924.7 1382.3 1932.4 1381.3 1940.0 1381.3C1955.2 1381.3 1970.4 1381.3 1985.6 1381.5C1989.1 1381.5 1992.6 1384.2 1996.1 1386.9C1998.8 1389.0 2001.6 1393.5 2004.3 1398.6C2006.7 1403.0 2009.0 1411.4 2011.4 1417.3C2013.7 1423.1 2016.1 1429.7 2018.4 1433.7C2020.4 1437.1 2022.3 1441.6 2024.3 1441.9C2027.0 1442.4 2029.8 1442.2 2032.5 1442.6C2035.0 1443.0 2037.5 1452.0 2040.0 1452.0C2042.6 1452.0 2045.1 1447.9 2047.7 1445.4C2050.4 1442.7 2053.2 1438.9 2055.9 1436.1C2058.2 1433.7 2060.6 1429.5 2062.9 1429.5C2066.0 1429.5 2069.2 1431.4 2072.3 1431.4C2075.4 1431.4 2078.6 1430.2 2081.7 1430.2C2083.3 1430.2 2084.8 1434.2 2086.4 1434.2C2087.6 1434.2 2088.7 1424.8 2089.9 1422.0C2092.6 1415.4 2095.4 1412.7 2098.1 1407.9C2101.2 1402.5 2104.3 1395.1 2107.4 1391.5C2111.3 1386.9 2115.3 1381.5 2119.2 1381.5C2132.5 1381.5 2145.7 1381.6 2159.0 1381.7C2166.8 1381.8 2174.6 1384.8 2182.4 1386.4C2192.6 1388.5 2202.7 1389.6 2212.9 1392.7C2216.8 1393.9 2220.7 1397.1 2224.6 1398.1C2229.3 1399.2 2233.9 1400.4 2238.6 1400.4C2244.1 1400.4 2249.5 1399.2 2255.0 1398.1C2260.5 1397.0 2265.9 1393.9 2271.4 1392.0C2276.9 1390.1 2282.3 1388.6 2287.8 1386.4C2293.3 1384.2 2298.7 1379.8 2304.2 1378.0C2308.1 1376.7 2312.1 1375.1 2316.0 1375.1C2319.9 1375.1 2323.8 1377.6 2327.7 1379.8C2331.6 1382.0 2335.5 1387.6 2339.4 1391.5C2342.5 1394.6 2345.7 1398.7 2348.8 1400.9C2351.9 1403.1 2355.0 1406.1 2358.1 1406.1C2361.2 1406.1 2364.4 1405.3 2367.5 1404.4C2370.6 1403.5 2373.8 1398.8 2376.9 1396.2C2380.8 1393.0 2384.7 1390.0 2388.6 1386.9"/>
</g>
<g id="annotations" shape-rendering="crispEdges">
<line x1="1938.3" y1="256.3" x2="1992.0" y2="199.1" stroke="#000" stroke-width="4.3" stroke-linecap="butt"/><polygon points="2016.9,172.5 1997.5,206.9 1983.8,194.1" fill="#000" stroke="#000" stroke-width="1.4" stroke-linejoin="round"/>
<line x1="2140.0" y1="288.9" x2="2123.3" y2="271.8" stroke="#000" stroke-width="4.3" stroke-linecap="butt"/><polygon points="2097.3,245.3 2131.4,266.7 2117.9,279.8" fill="#000" stroke="#000" stroke-width="1.4" stroke-linejoin="round"/>
<line x1="2185.7" y1="138.0" x2="2205.9" y2="112.9" stroke="#000" stroke-width="4.1" stroke-linecap="butt"/><polygon points="2228.4,84.9 2212.0,120.4 2197.2,108.5" fill="#000" stroke="#000" stroke-width="1.4" stroke-linejoin="round"/>
<line x1="2330.3" y1="199.1" x2="2349.3" y2="133.4" stroke="#000" stroke-width="3.7" stroke-linecap="butt"/><polygon points="2359.3,98.7 2357.9,137.9 2339.6,132.6" fill="#000" stroke="#000" stroke-width="1.4" stroke-linejoin="round"/>
<text transform="translate(1783.00 289.60) scale(1 1.02)" font-family="'Liberation Sans','DejaVu Sans',sans-serif" font-size="62.5" fill="#000" stroke="#000" stroke-width="0.6" text-anchor="start" dx="1.4 0 -1.4">1128</text>
<text transform="translate(2107.50 344.00) scale(1 1.02)" font-family="'Liberation Sans','DejaVu Sans',sans-serif" font-size="62.5" fill="#000" stroke="#000" stroke-width="0.6" text-anchor="start" dx="1.4 -1.4">1034</text>
<text transform="translate(2142.50 195.00) scale(1 1.02)" font-family="'Liberation Sans','DejaVu Sans',sans-serif" font-size="62.5" fill="#000" stroke="#000" stroke-width="0.6" text-anchor="start">800</text>
<text transform="translate(2270.00 264.90) scale(1 1.02)" font-family="'Liberation Sans','DejaVu Sans',sans-serif" font-size="62.5" fill="#000" stroke="#000" stroke-width="0.6" text-anchor="start">584</text>
</g>
</svg></body></html>
